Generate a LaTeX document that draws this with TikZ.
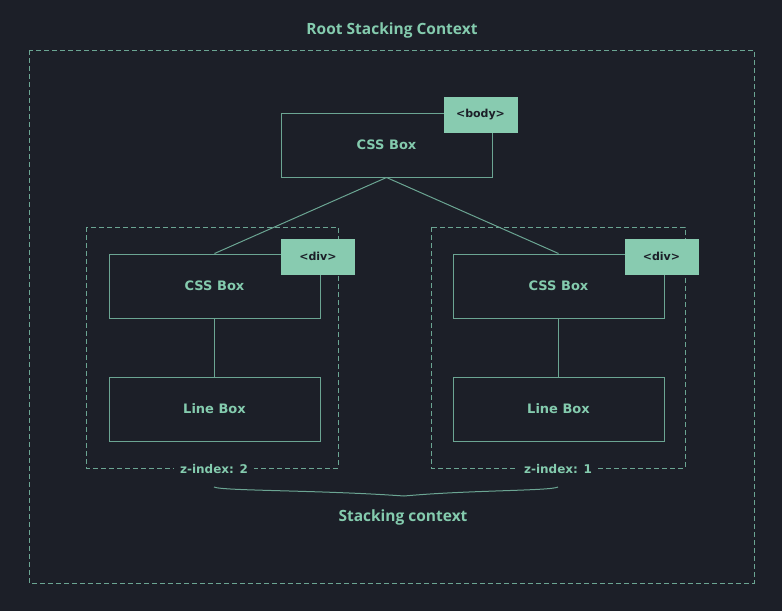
\documentclass[tikz,border=0pt]{standalone}
\usepackage{fontspec}
\setmainfont{Open Sans}
\newfontfamily\boxfont{DejaVu Sans}
\definecolor{bg}{HTML}{1C1F28}
\definecolor{txt}{HTML}{84CBAE}
\definecolor{ln}{HTML}{6BA593}
\definecolor{tagfill}{HTML}{88CBB0}
\begin{document}
\begin{tikzpicture}[x=1pt,y=-1pt,
  boxst/.style={draw=ln, line width=1pt, minimum width=211pt, minimum height=64pt, inner sep=0pt, text=txt, font=\boxfont\bfseries\fontsize{13}{15}\selectfont},
  tagst/.style={fill=tagfill, draw=tagfill, minimum width=73pt, minimum height=35pt, inner sep=0pt, text=bg, font=\boxfont\bfseries\fontsize{11}{13}\selectfont},
  dashst/.style={draw=ln, line width=0.8pt, dash pattern=on 5pt off 3pt},
  lblst/.style={fill=bg, text=txt, inner xsep=6pt, inner ysep=2pt, font=\boxfont\bfseries\fontsize{12}{14}\selectfont},
  headst/.style={text=txt, font=\bfseries\fontsize{15.5}{17}\selectfont},
  conn/.style={draw=ln, line width=1pt}]
\fill[bg] (0,0) rectangle (782,611);
\useasboundingbox (0,0) rectangle (782,611);
% outer
\draw[dashst] (29,50) rectangle (754,583);
\node[headst] (title) at (392,30) {Root Stacking Context};
% inner dashed
\draw[dashst] (86,227) rectangle (338,468);
\draw[dashst] (431,227) rectangle (685,468);
\node[lblst] (z2) at (214,469) {z-index: 2};
\node[lblst] (z1) at (558,469) {z-index: 1};
% boxes
\node[boxst] (body) at (386.5,145) {CSS Box};
\node[boxst] (lcss) at (214.5,286) {CSS Box};
\node[boxst] (rcss) at (558.5,286) {CSS Box};
\node[boxst] (lline) at (214.5,409) {Line Box};
\node[boxst] (rline) at (558.5,409) {Line Box};
% tags
\node[tagst] (tbody) at (480.5,114.5) {<body>};
\node[tagst] (tl) at (318,256.5) {<div>};
\node[tagst] (tr) at (661.5,256.5) {<div>};
% connectors
\draw[conn] (body.south) -- (lcss.north);
\draw[conn] (body.south) -- (rcss.north);
\draw[conn] (lcss.south) -- (lline.north);
\draw[conn] (rcss.south) -- (rline.north);
% brace
\coordinate (bl) at (214,487);
\coordinate (br) at (558,487);
\coordinate (bt) at (404,496);
\draw[conn] (bl) .. controls (222,491) and (320,490) .. (bt);
\draw[conn] (br) .. controls (550,491) and (470,490) .. (bt);
\node[headst] (sc) at (403,517) {Stacking context};
\end{tikzpicture}
\end{document}
